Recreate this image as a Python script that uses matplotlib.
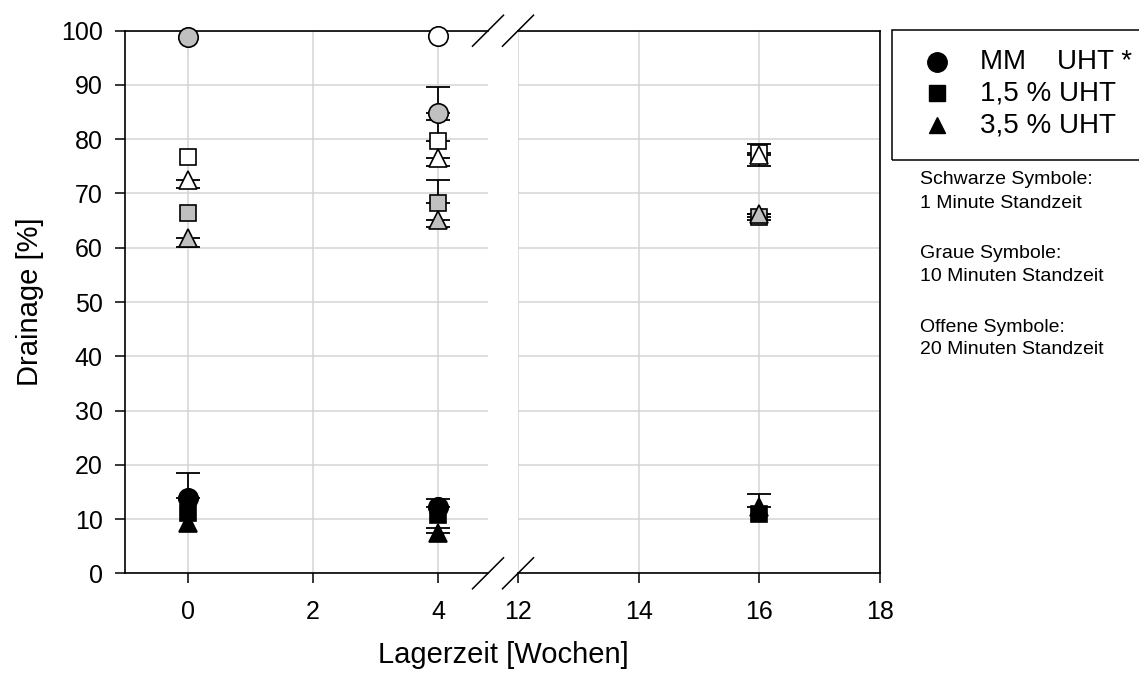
import numpy as np
import matplotlib
matplotlib.use("Agg")
import matplotlib.pyplot as plt
from matplotlib.lines import Line2D
from matplotlib.patches import Rectangle

plt.rcParams['font.family'] = ['Liberation Sans', 'DejaVu Sans']

# ---- data ----
weeks = [0, 4, 16]
x_ticks_left = [0, 2, 4]
x_ticks_right = [12, 14, 16, 18]
y_ticks = [0, 10, 20, 30, 40, 50, 60, 70, 80, 90, 100]

series_names = ["MM    UHT *", "1,5 % UHT", "3,5 % UHT"]

# 1 minute (black)
mm_1 = [13.9, 12.3, np.nan]
p15_1 = [11.1, 10.7, 11.0]
p35_1 = [9.2, 7.4, 12.3]
mm_1_up = [4.6, 1.4, 0]
p15_1_up = [0, 0, 0]
p35_1_up = [0, 1.0, 2.3]
mm_1_dn = [0, 0, 0]
p15_1_dn = [0, 0, 0]
p35_1_dn = [0, 0, 0]

# 10 minutes (grey)
mm_10 = [98.8, 84.9, np.nan]
p15_10 = [66.4, 68.3, 65.7]
p35_10 = [61.8, 65.1, 66.3]
mm_10_up = [0, 4.8, 0]
p15_10_up = [0, 4.2, 0.6]
p35_10_up = [0, 0, 0]
mm_10_dn = [0, 0, 0]
p15_10_dn = [0, 0, 0]
p35_10_dn = [1.6, 1.3, 1.2]

# 20 minutes (open)
mm_20 = [np.nan, 99.0, np.nan]
p15_20 = [76.8, 79.7, 77.4]
p35_20 = [72.5, 76.5, 77.1]
mm_20_up = [0, 0, 0]
p15_20_up = [0, 3.8, 1.8]
p35_20_up = [0, 0, 0]
mm_20_dn = [0, 0, 0]
p15_20_dn = [0, 0, 0]
p35_20_dn = [1.5, 1.4, 2.0]

W, H = 1139, 678
fig = plt.figure(figsize=(W / 100, H / 100), dpi=100)

def fx(px):
    return px / W

def fy(py):
    return 1 - py / H

ax_bottom = fy(573.3)
ax_top = fy(30.7)
axL = fig.add_axes([fx(125), ax_bottom, fx(488) - fx(125), ax_top - ax_bottom])
axR = fig.add_axes([fx(518), ax_bottom, fx(880) - fx(518), ax_top - ax_bottom])

grid_color = "#d4d4d4"
for ax in (axL, axR):
    ax.set_ylim(0, 100)
    ax.set_yticks(y_ticks)
    ax.grid(True, color=grid_color, linewidth=1.1, zorder=0)
    ax.set_axisbelow(True)
    ax.tick_params(direction='out', length=7, width=1.1, labelsize=18)
    ax.tick_params(axis='x', pad=12.5)
    ax.tick_params(axis='y', pad=9)
    for s in ax.spines.values():
        s.set_linewidth(1.2)

axL.set_xlim(-1, 4.8)
axL.set_xticks(x_ticks_left)
axL.spines['right'].set_visible(False)

axR.set_xlim(12, 18)
axR.set_xticks(x_ticks_right)
axR.spines['left'].set_visible(False)
axR.tick_params(axis='y', left=False, labelleft=False)

grey = "#c0c0c0"
ms = {'o': 14, 's': 11.5, '^': 13}
cap = 8.5

groups = [
    ("black", [(mm_1, mm_1_up, mm_1_dn, 'o'), (p15_1, p15_1_up, p15_1_dn, 's'), (p35_1, p35_1_up, p35_1_dn, '^')]),
    (grey, [(mm_10, mm_10_up, mm_10_dn, 'o'), (p15_10, p15_10_up, p15_10_dn, 's'), (p35_10, p35_10_up, p35_10_dn, '^')]),
    ("white", [(mm_20, mm_20_up, mm_20_dn, 'o'), (p15_20, p15_20_up, p15_20_dn, 's'), (p35_20, p35_20_up, p35_20_dn, '^')]),
]

z = 3
for color, items in groups:
    for vals, up, dn, mk in items:
        for xv, v, u, d in zip(weeks, vals, up, dn):
            if np.isnan(v):
                continue
            ax = axL if xv <= 4 else axR
            if u > 0 or d > 0:
                ax.errorbar([xv], [v], yerr=[[d], [u]], fmt='none', ecolor='black',
                            elinewidth=1.3, capsize=cap, capthick=1.3, zorder=z, clip_on=False)
            ax.plot([xv], [v], marker=mk, markersize=ms[mk], markerfacecolor=color,
                    markeredgecolor='black', markeredgewidth=1.2, linestyle='none',
                    zorder=z + 0.5, clip_on=False)
            z += 0.01

# break marks
d = 15.5
for cxp in (488, 518):
    for cyp in (30.7, 573.3):
        fig.add_artist(Line2D([fx(cxp - d), fx(cxp + d)], [fy(cyp + d), fy(cyp - d)],
                              transform=fig.transFigure, color='black', linewidth=1.1))

# axis labels
fig.text(fx(503), fy(655), "Lagerzeit [Wochen]", ha='center', va='center', fontsize=21)
fig.text(fx(30), fy(302), "Drainage [%]", ha='center', va='center', fontsize=21, rotation=90)

# legend box
fig.add_artist(Rectangle((fx(892), fy(160)), fx(1139 + 5) - fx(892), fy(30) - fy(160),
                         transform=fig.transFigure, fill=False, edgecolor='black', linewidth=1.1))
leg_y = [62, 93, 125]
leg_mk = ['o', 's', '^']
leg_ms = [14, 11, 12]
for name, yy, mk, m in zip(series_names, leg_y, leg_mk, leg_ms):
    fig.add_artist(Line2D([fx(937)], [fy(yy)], marker=mk, markersize=m, color='black',
                          linestyle='none', transform=fig.transFigure))
    fig.text(fx(980), fy(yy), name, ha='left', va='center', fontsize=20)

notes = [("Schwarze Symbole:", 180), ("1 Minute Standzeit", 203),
         ("Graue Symbole:", 253), ("10 Minuten Standzeit", 277),
         ("Offene Symbole:", 327), ("20 Minuten Standzeit", 350)]
for t, yy in notes:
    fig.text(fx(920), fy(yy), t, ha='left', va='center', fontsize=14)

fig.savefig("out.png", dpi=100)
